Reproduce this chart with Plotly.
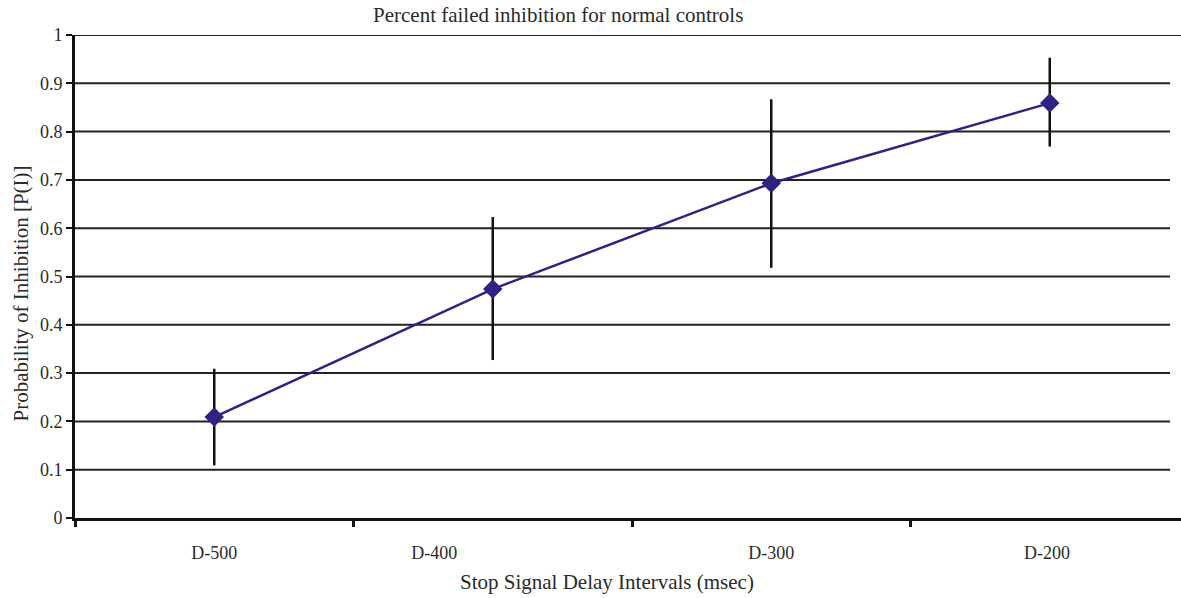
import plotly.graph_objects as go

categories = ["D-500", "D-400", "D-300", "D-200"]
values = [0.209, 0.474, 0.693, 0.859]
errors_plus = [0.100, 0.149, 0.174, 0.094]
errors_minus = [0.100, 0.147, 0.175, 0.090]
label_positions = [0.5, 1.29, 2.5, 3.49]
y_ticks = [0, 0.1, 0.2, 0.3, 0.4, 0.5, 0.6, 0.7, 0.8, 0.9, 1]
y_tick_text = ["0", "0.1", "0.2", "0.3", "0.4", "0.5", "0.6", "0.7", "0.8", "0.9", "1"]

x_pos = [i + 0.5 for i in range(len(categories))]

FONT = "Liberation Serif"
TXT = "#2a2a2a"
PLOT_W = 1106  # plot area width in px

fig = go.Figure()
fig.add_trace(go.Scatter(
    x=x_pos, y=values, mode="lines+markers",
    line=dict(color="#2e2283", width=2.5),
    marker=dict(symbol="diamond", size=15, color="#2e2283"),
    error_y=dict(type="data", array=errors_plus, arrayminus=errors_minus,
                 color="#111111", thickness=2.5, width=0, visible=True),
    hoverinfo="skip", showlegend=False,
))

shapes = []
for yv in y_ticks[1:]:
    shapes.append(dict(type="line", xref="x", yref="y", x0=0,
                       x1=3.975 if yv == 1 else 3.932, y0=yv, y1=yv,
                       line=dict(color="#222222", width=2), layer="below"))

fig.update_layout(
    width=1181, height=598,
    margin=dict(l=75, r=0, t=35, b=80),
    paper_bgcolor="white", plot_bgcolor="white",
    font=dict(family=FONT, size=18, color=TXT),
    shapes=shapes,
    annotations=[
        dict(text="Percent failed inhibition for normal controls", xref="paper", yref="paper",
             x=(558 - 75) / PLOT_W, y=1, yshift=20, showarrow=False,
             font=dict(family=FONT, size=21, color=TXT), xanchor="center", yanchor="middle"),
        dict(text="Stop Signal Delay Intervals (msec)", xref="paper", yref="paper",
             x=(607 - 75) / PLOT_W, y=0, yshift=-64, showarrow=False,
             font=dict(family=FONT, size=21, color=TXT), xanchor="center", yanchor="middle"),
        dict(text="Probability of Inhibition [P(I)]", xref="paper", yref="paper",
             x=0, y=0.5, xshift=-55, yshift=-17, showarrow=False, textangle=-90,
             font=dict(family=FONT, size=21, color=TXT), xanchor="center", yanchor="middle"),
    ],
    xaxis=dict(
        range=[0, PLOT_W / 278.5], showgrid=False, zeroline=False,
        showline=True, linecolor="#111111", linewidth=3,
        tickmode="array", tickvals=label_positions, ticktext=categories,
        ticks="", ticklabelstandoff=16, tickfont=dict(family=FONT, size=18, color=TXT),
        minor=dict(tickmode="array", tickvals=[0, 1, 2, 3], ticks="outside",
                   ticklen=6, tickwidth=3, tickcolor="#111111", showgrid=False),
    ),
    yaxis=dict(
        range=[0, 1], showgrid=False, zeroline=False,
        showline=True, linecolor="#111111", linewidth=3,
        tickmode="array", tickvals=y_ticks, ticktext=y_tick_text,
        ticks="outside", ticklen=6, tickwidth=2, tickcolor="#111111",
        tickfont=dict(family=FONT, size=18, color=TXT),
    ),
)

fig.write_html("out.html", config={"displayModeBar": False},
               post_script="document.body.style.margin='0';document.body.style.overflow='hidden';")
